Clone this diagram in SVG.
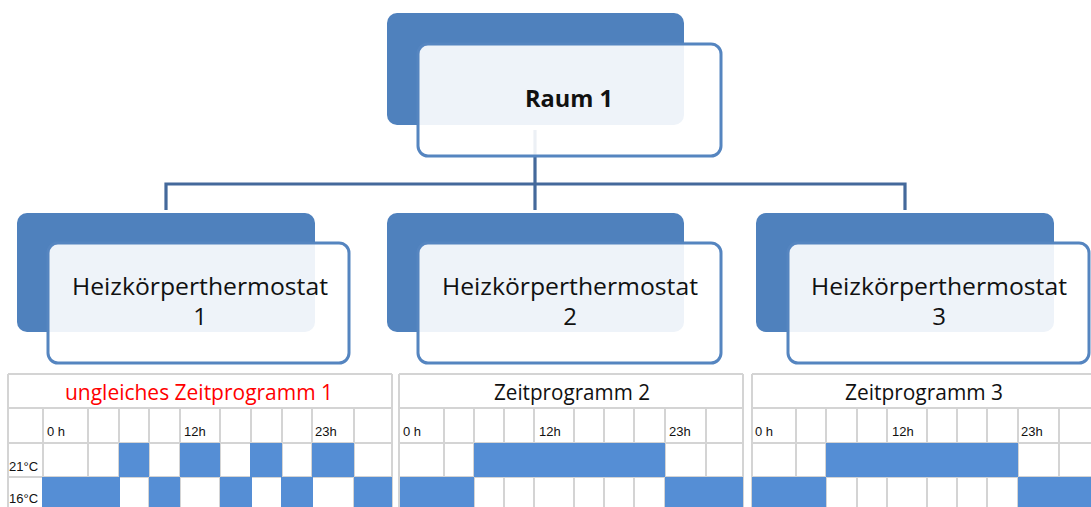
<svg xmlns="http://www.w3.org/2000/svg" width="1091" height="507" viewBox="0 0 1091 507">
<style>
.back{fill:#4f81bd;}
.front{fill:#ffffff;fill-opacity:0.9;stroke:#5585c0;stroke-width:3;}
.conn{fill:none;stroke:#44699b;stroke-width:3.2;}
.nt{font-family:"Open Sans","Liberation Sans",sans-serif;font-size:24px;fill:#111;text-anchor:middle;}
.bt{font-family:"Open Sans","Liberation Sans",sans-serif;font-size:23px;font-weight:bold;fill:#111;text-anchor:middle;}
.tt{font-family:"Open Sans","Liberation Sans",sans-serif;font-size:21.5px;fill:#111;text-anchor:middle;}
.sm{font-family:"Liberation Sans",Arial,sans-serif;font-size:13px;fill:#111;}
.grid{stroke:#d4d4d4;stroke-width:2;fill:none;}
.on{fill:#558ed5;}
</style>
<rect width="1091" height="507" fill="#ffffff"/>
<g id="connectors">
<path class="conn" d="M535 130 V184 M166 210 V184 H905 V210 M535 184 V210"/>
</g>
<g id="raum1">
<rect class="back" x="387" y="13" width="297" height="112" rx="10"/>
<rect class="front" x="418" y="44" width="303" height="112" rx="10"/>
<text class="bt" x="569" y="107" textLength="88" lengthAdjust="spacingAndGlyphs">Raum 1</text>
</g>
<g id="thermostat1">
<rect class="back" x="17" y="213" width="298" height="119" rx="10"/>
<rect class="front" x="48" y="243" width="301" height="120" rx="10"/>
<text class="nt" x="200" y="295" textLength="256" lengthAdjust="spacingAndGlyphs">Heizkörperthermostat</text>
<text class="nt" x="200" y="325">1</text>
</g>
<g id="thermostat2">
<rect class="back" x="387" y="213" width="297" height="119" rx="10"/>
<rect class="front" x="418" y="243" width="303" height="120" rx="10"/>
<text class="nt" x="570" y="295" textLength="256" lengthAdjust="spacingAndGlyphs">Heizkörperthermostat</text>
<text class="nt" x="570" y="325">2</text>
</g>
<g id="thermostat3">
<rect class="back" x="756" y="213" width="298" height="119" rx="10"/>
<rect class="front" x="788" y="243" width="301" height="120" rx="10"/>
<text class="nt" x="939" y="295" textLength="256" lengthAdjust="spacingAndGlyphs">Heizkörperthermostat</text>
<text class="nt" x="939" y="325">3</text>
</g>
<g id="table1">
<path class="grid" d="M8 374 H392 M8 408 H392 M8 443 H392 M8 477 H392 M8 374 V507 M392 374 V507 M43 408 V507 M88 408 V507 M119 408 V507 M149 408 V507 M180 408 V507 M220 408 V507 M251 408 V507 M282 408 V507 M312 408 V507 M354 408 V507"/>
<rect class="on" x="119" y="443" width="30" height="34"/>
<rect class="on" x="180" y="443" width="40" height="34"/>
<rect class="on" x="250" y="443" width="32" height="34"/>
<rect class="on" x="312" y="443" width="42" height="34"/>
<rect class="on" x="42" y="477" width="78" height="30"/>
<rect class="on" x="149" y="477" width="31" height="30"/>
<rect class="on" x="220" y="477" width="32" height="30"/>
<rect class="on" x="281" y="477" width="32" height="30"/>
<rect class="on" x="354" y="477" width="38" height="30"/>
<text class="tt" x="199" y="400" style="fill:#ff0000" textLength="268" lengthAdjust="spacingAndGlyphs">ungleiches Zeitprogramm 1</text>
<text class="sm" x="47" y="436">0 h</text>
<text class="sm" x="184" y="436">12h</text>
<text class="sm" x="315" y="436">23h</text>
<text class="sm" x="9" y="471">21°C</text>
<text class="sm" x="9" y="503">16°C</text>
</g>
<g id="table2">
<path class="grid" d="M399 374 H743 M399 408 H743 M399 443 H743 M399 477 H743 M399 374 V507 M743 374 V507 M444 408 V507 M474 408 V507 M504 408 V507 M534 408 V507 M574 408 V507 M604 408 V507 M634 408 V507 M665 408 V507 M706 408 V507"/>
<rect class="on" x="474" y="443" width="191" height="34"/>
<rect class="on" x="400" y="477" width="74" height="30"/>
<rect class="on" x="665" y="477" width="78" height="30"/>
<text class="tt" x="572" y="400" textLength="156" lengthAdjust="spacingAndGlyphs">Zeitprogramm 2</text>
<text class="sm" x="403" y="436">0 h</text>
<text class="sm" x="539" y="436">12h</text>
<text class="sm" x="669" y="436">23h</text>
</g>
<g id="table3">
<path class="grid" d="M752 374 H1091 M752 408 H1091 M752 443 H1091 M752 477 H1091 M752 374 V507 M796 408 V507 M826 408 V507 M857 408 V507 M887 408 V507 M927 408 V507 M957 408 V507 M987 408 V507 M1018 408 V507 M1059 408 V507"/>
<rect class="on" x="826" y="443" width="192" height="34"/>
<rect class="on" x="752" y="477" width="74" height="30"/>
<rect class="on" x="1018" y="477" width="73" height="30"/>
<text class="tt" x="924" y="400" textLength="158" lengthAdjust="spacingAndGlyphs">Zeitprogramm 3</text>
<text class="sm" x="755" y="436">0 h</text>
<text class="sm" x="892" y="436">12h</text>
<text class="sm" x="1021" y="436">23h</text>
</g>
</svg>
